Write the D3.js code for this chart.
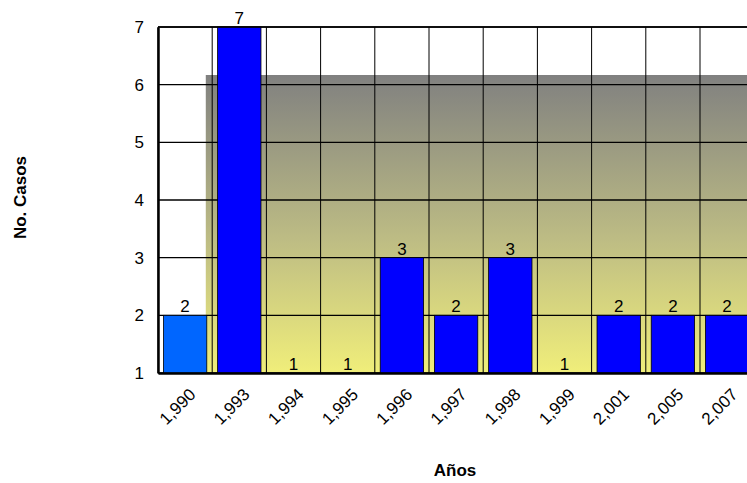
<!DOCTYPE html>
<html>
<head>
<meta charset="utf-8">
<script src="https://cdn.jsdelivr.net/npm/d3@7"></script>
<style>
  body { margin: 0; background: #fff; }
  svg { display: block; font-family: "Liberation Sans", Arial, sans-serif; }
</style>
</head>
<body>
<svg id="chart" width="747" height="483"></svg>
<script>
const categories = ["1,990", "1,993", "1,994", "1,995", "1,996", "1,997", "1,998", "1,999", "2,001", "2,005", "2,007"];
const values = [2, 7, 1, 1, 3, 2, 3, 1, 2, 2, 2];
const yTicks = [1, 2, 3, 4, 5, 6, 7];
const barColors = ["#0066FF", "#0000FF", "#0000FF", "#0000FF", "#0000FF", "#0000FF", "#0000FF", "#0000FF", "#0000FF", "#0000FF", "#0000FF"];
const xTitle = "Años";
const yTitle = "No. Casos";

const FONT = "Liberation Sans, Arial, sans-serif";
const pLeft = 158, pTop = 27, pBottom = 373;
const step = 54.2;
const pRight = pLeft + step * categories.length;

const svg = d3.select("#chart");

const x = d3.scaleBand().domain(categories).range([pLeft, pRight]).paddingInner(0.2).paddingOuter(0.1);
const y = d3.scaleLinear().domain([1, 7]).range([pBottom, pTop]);

// gradient back panel
const defs = svg.append("defs");
const grad = defs.append("linearGradient").attr("id", "bg").attr("x1", 0).attr("y1", 0).attr("x2", 0).attr("y2", 1);
grad.append("stop").attr("offset", "0%").attr("stop-color", "#808080");
grad.append("stop").attr("offset", "3%").attr("stop-color", "#848480");
grad.append("stop").attr("offset", "55%").attr("stop-color", "#BDBC84");
grad.append("stop").attr("offset", "100%").attr("stop-color", "#F0EE7A");

const panelX = x(categories[0]) + x.bandwidth() - 1;
const panelTop = 75;
svg.append("rect")
  .attr("x", panelX).attr("y", panelTop)
  .attr("width", pRight - panelX).attr("height", pBottom - panelTop)
  .attr("fill", "url(#bg)");

// grid
const grid = svg.append("g");
grid.selectAll("line.h").data(yTicks).join("line")
  .attr("x1", pLeft).attr("x2", pRight)
  .attr("y1", d => y(d)).attr("y2", d => y(d))
  .attr("stroke", "#000").attr("stroke-width", 1.3);
const bounds = d3.range(categories.length + 1).map(i => pLeft + i * x.step());
grid.selectAll("line.v").data(bounds).join("line")
  .attr("x1", d => d).attr("x2", d => d)
  .attr("y1", pTop).attr("y2", pBottom)
  .attr("stroke", "#000").attr("stroke-width", 1);

// bars
svg.append("g").selectAll("rect").data(values).join("rect")
  .attr("x", (d, i) => x(categories[i]))
  .attr("y", d => y(d))
  .attr("width", x.bandwidth())
  .attr("height", d => y(1) - y(d))
  .attr("fill", (d, i) => barColors[i])
  .attr("stroke", "#000").attr("stroke-width", 0.8);

// value labels
svg.append("g").selectAll("text").data(values).join("text")
  .attr("x", (d, i) => x(categories[i]) + x.bandwidth() / 2)
  .attr("y", d => y(d) - 3)
  .attr("text-anchor", "middle")
  .attr("font-size", 17)
  .attr("font-family", FONT)
  .attr("fill", "#000")
  .text(d => d);

// axes
const yAxis = d3.axisLeft(y).tickValues(yTicks).tickSize(0).tickPadding(14).tickFormat(d3.format("d"));
const gy = svg.append("g").attr("transform", `translate(${pLeft},0)`).call(yAxis);
gy.select(".domain").attr("stroke", "#000").attr("stroke-width", 2.5);
gy.selectAll("text").attr("font-size", 17).attr("font-family", FONT).attr("fill", "#000");

const xAxis = d3.axisBottom(x).tickSize(0).tickPadding(0);
const gx = svg.append("g").attr("transform", `translate(0,${pBottom})`).call(xAxis);
gx.select(".domain").attr("stroke", "#000").attr("stroke-width", 2.5);
gx.selectAll("text")
  .attr("font-size", 17)
  .attr("font-family", FONT)
  .attr("fill", "#000")
  .attr("text-anchor", "end")
  .attr("y", 0).attr("dy", 0)
  .attr("transform", "translate(11.5,22.6) rotate(-45)");

// top border
svg.append("line").attr("x1", pLeft).attr("x2", pRight).attr("y1", pTop).attr("y2", pTop)
  .attr("stroke", "#000").attr("stroke-width", 1.5);

// titles
svg.append("text").attr("x", 455).attr("y", 476).attr("text-anchor", "middle")
  .attr("font-size", 17).attr("font-weight", "bold").attr("font-family", FONT).text(xTitle);
svg.append("text").attr("transform", "translate(26,197.5) rotate(-90)").attr("text-anchor", "middle")
  .attr("font-size", 17).attr("font-weight", "bold").attr("font-family", FONT).text(yTitle);
</script>
</body>
</html>
